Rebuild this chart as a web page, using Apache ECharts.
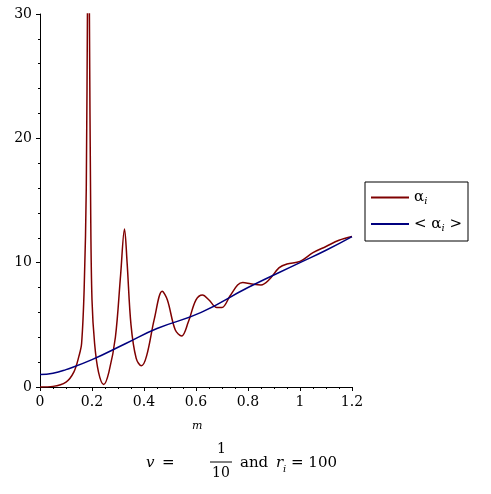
<!DOCTYPE html>
<html><head><meta charset="utf-8">
<script src="https://cdn.jsdelivr.net/npm/echarts@6/dist/echarts.min.js"></script>
<style>html,body{margin:0;background:#fff}#c{width:491px;height:494px}</style>
</head><body><div id="c"></div>
<script>
// alpha_i (red) samples
const mRed = [0,0.05,0.1,0.13,0.15,0.16,0.17,0.178,0.183,0.187,0.19,0.195,0.2,0.21,0.225,0.245,0.265,0.29,0.31,0.325,0.335,0.35,0.37,0.39,0.41,0.44,0.47,0.49,0.52,0.545,0.57,0.6,0.625,0.65,0.68,0.7,0.73,0.76,0.78,0.81,0.85,0.88,0.92,0.95,1.0,1.05,1.1,1.15,1.2];
const alphaRed = [0,0.05,0.4,1.2,2.5,3.5,8,16,32,40,30,14,7,3.5,1.2,0.2,1.2,4,9,12.7,10,5,2.3,1.7,2.5,5.5,7.7,7,4.6,4.1,5.2,7,7.4,7,6.4,6.4,7.3,8.2,8.4,8.3,8.2,8.6,9.6,9.9,10.1,10.8,11.3,11.8,12.1];
// <alpha_i> (blue) samples
const mBlue = [0,0.05,0.1,0.2,0.33,0.45,0.62,0.8,1.0,1.1,1.2];
const alphaBlue = [1,1.1,1.4,2.2,3.5,4.7,6,8,10,11,12.1];

const chart = echarts.init(document.getElementById('c'));
const zip = (a, b) => a.map((x, i) => [x, b[i]]);
const font = '"DejaVu Serif", serif';
const txt = (left, top, text, extra) => ({type: 'text', left, top, style: Object.assign({text, fill: '#000', font: '15px ' + font}, extra)});
chart.setOption({
  animation: false,
  grid: {left: 40, right: 139, top: 14, bottom: 107},
  legend: {
    left: 365, top: 182, orient: 'vertical', align: 'left', borderColor: '#000', borderWidth: 1,
    padding: [8, 6], itemWidth: 38, itemHeight: 2, itemGap: 10, icon: 'rect',
    data: ['a', 'b'],
    formatter: n => n === 'a' ? '{a|α}{s|i}' : '{a|< α}{s|i}{a| >}',
    textStyle: {color: '#000', rich: {a: {color: '#000', fontSize: 15, fontFamily: font}, s: {color: '#000', fontSize: 10, fontStyle: 'italic', padding: [8,0,0,0], fontFamily: font}}}
  },
  xAxis: {
    type: 'value', min: 0, max: 1.2, interval: 0.2,
    axisLine: {lineStyle: {color: '#000'}}, axisTick: {lineStyle: {color: '#000'}, length: 4},
    minorTick: {show: true, splitNumber: 4, length: 2}, splitLine: {show: false},
    axisLabel: {color: '#000', fontSize: 14, fontFamily: font, formatter: v => String(+v.toFixed(1))}
  },
  yAxis: {
    type: 'value', min: 0, max: 30, interval: 10,
    axisLine: {show: true, lineStyle: {color: '#000'}}, axisTick: {show: true, lineStyle: {color: '#000'}, length: 4},
    minorTick: {show: true, splitNumber: 5, length: 2}, splitLine: {show: false},
    axisLabel: {color: '#000', fontSize: 14, fontFamily: font}
  },
  series: [
    {name: 'a', type: 'line', data: zip(mRed, alphaRed), smooth: 0.35, showSymbol: false, clip: true, color: '#7f0000', lineStyle: {width: 1.5}},
    {name: 'b', type: 'line', data: zip(mBlue, alphaBlue), smooth: true, showSymbol: false, color: '#00007f', lineStyle: {width: 1.5}}
  ],
  graphic: [
    txt(192, 421, 'm', {font: 'italic 11px ' + font}),
    txt(146, 456, 'v', {font: 'italic 15px ' + font}),
    txt(162, 456, '='),
    txt(217, 442, '1', {font: '14px ' + font}),
    {type: 'line', shape: {x1: 210, y1: 462, x2: 232, y2: 462}, style: {stroke: '#000', lineWidth: 1}},
    txt(212, 466, '10', {font: '14px ' + font}),
    txt(240, 456, 'and'),
    txt(276, 456, 'r', {font: 'italic 15px ' + font}),
    txt(283, 464, 'i', {font: 'italic 10px ' + font}),
    txt(291, 456, '= 100')
  ]
});
</script></body></html>
